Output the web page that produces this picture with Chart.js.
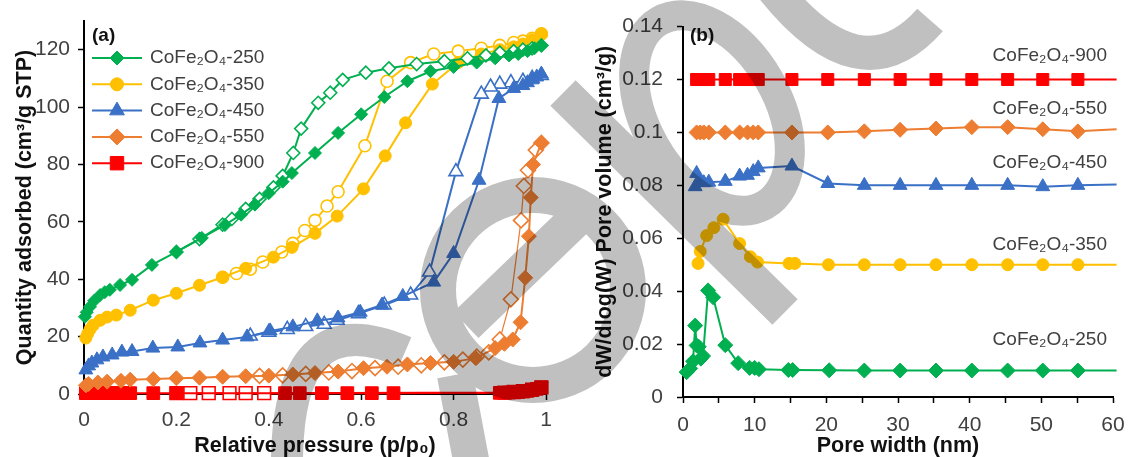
<!DOCTYPE html>
<html>
<head>
<meta charset="utf-8">
<script src="https://cdn.jsdelivr.net/npm/chart.js@4.4.1/dist/chart.umd.min.js"></script>
<style>
  html, body { margin: 0; padding: 0; background: #fff; }
  #wrap { position: relative; width: 1128px; height: 457px; overflow: hidden; }
  #chartA { position: absolute; left: 0; top: 0; }
  #chartB { position: absolute; left: 580px; top: 0; }
  #mark { position: absolute; left: 0; top: 0; pointer-events: none; mix-blend-mode: multiply; }
</style>
</head>
<body>
<div id="wrap">
  <canvas id="chartA" width="580" height="457"></canvas>
  <canvas id="chartB" width="556" height="457"></canvas>
  <canvas id="mark" width="1128" height="457"></canvas>
</div>
<script>
/*
 * (a) N2 isotherms: relative pressure p/p0 vs quantity adsorbed (cm3/g STP)
 * ads = adsorption branch (filled), des = desorption branch (open)
**/
const sampleNames = ['CoFe₂O₄-250', 'CoFe₂O₄-350', 'CoFe₂O₄-450', 'CoFe₂O₄-550', 'CoFe₂O₄-900'];

const ads250P = [0.002,0.006,0.013,0.022,0.035,0.045,0.056,0.078,0.104,0.147,0.2,0.255,0.305,0.34,0.37,0.4,0.43,0.45,0.5,0.55,0.6,0.65,0.7,0.75,0.8,0.85,0.89,0.92,0.94,0.96,0.975,0.99];
const ads250Q = [26.9,28.5,30.4,32.5,34.5,35.5,36.3,38,39.8,45,49.5,54.4,58.9,62.5,66,70,74,77,84,91,97.5,103.5,109,112.5,114,115.5,117,118,118.5,119.5,120.5,121.5];
const des250P = [0.99,0.97,0.95,0.93,0.9,0.87,0.83,0.78,0.72,0.66,0.61,0.56,0.533,0.507,0.47,0.453,0.43,0.41,0.38,0.35,0.32,0.3,0.25,0.2];
const des250Q = [121.5,120.5,120,119.5,119,118,117,116,115,113.5,112,109.5,105,101.5,92.5,84,76,72,68,64.5,61,59,54,49.5];

const ads350P = [0.004,0.008,0.013,0.02,0.035,0.05,0.07,0.1,0.15,0.2,0.25,0.3,0.35,0.41,0.45,0.5,0.548,0.605,0.652,0.696,0.754,0.81,0.86,0.9,0.93,0.95,0.97,0.99];
const ads350Q = [19.5,21,22.5,24,25.7,26.8,27.5,29.2,32.7,35.1,37.9,40.7,43.8,47.7,51.1,56,62,71.5,83,94.5,108,115.5,118.5,120,121,122,123.5,125.5];
const des350P = [0.99,0.97,0.95,0.93,0.9,0.86,0.81,0.757,0.707,0.656,0.608,0.55,0.526,0.5,0.478,0.452,0.428,0.387,0.36,0.33,0.3];
const des350Q = [125.5,124,123,122.5,121.5,120.5,119.5,118.5,115.5,109,86.5,70.5,65.5,60.5,57,52.5,49.5,46,43.5,42,40.7];

const ads450P = [0.004,0.01,0.017,0.028,0.041,0.061,0.082,0.104,0.149,0.203,0.251,0.3,0.353,0.403,0.452,0.505,0.55,0.598,0.645,0.69,0.757,0.8,0.855,0.898,0.93,0.95,0.96,0.97,0.98,0.99];
const ads450Q = [8.4,9.8,10.8,11.9,12.9,13.6,14.6,14.8,16,16.4,17.8,18.8,19.9,22,23.4,25.5,26.5,28.5,31,34,39,49,74.5,103,106.5,107.5,108.5,109.5,110.5,111.5];
const des450P = [0.99,0.97,0.95,0.924,0.9,0.88,0.86,0.805,0.748,0.707,0.65,0.594,0.548,0.52,0.48,0.44,0.4,0.36];
const des450Q = [111,110,109,108.5,108,107,104.5,77.5,42.5,34.5,31,28,25.7,24.3,23.5,22.5,21.5,20.2];

const ads550P = [0.004,0.01,0.03,0.05,0.08,0.1,0.15,0.2,0.25,0.3,0.35,0.4,0.452,0.5,0.55,0.605,0.656,0.7,0.75,0.8,0.848,0.89,0.91,0.928,0.945,0.955,0.963,0.967,0.972,0.99];
const ads550Q = [3,3.5,4,4.3,4.6,5,5.2,5.5,5.7,6,6.2,6.4,6.8,7.3,7.8,9,9.5,10.3,10.8,11.2,12.5,16,17.5,19,25,40.5,55,68.5,80,87.5];
const des550P = [0.99,0.978,0.961,0.952,0.946,0.924,0.9,0.876,0.85,0.82,0.78,0.73,0.68,0.63,0.58,0.53,0.48,0.43,0.38];
const des550Q = [87.5,85,78,72.5,60.5,33,19,14.5,13,12,11,10,9.5,9,8,7.5,7,6.5,6.3];

const ads900P = [0.004,0.01,0.02,0.03,0.04,0.05,0.06,0.07,0.08,0.09,0.1,0.15,0.2,0.435,0.467,0.515,0.57,0.623,0.67,0.9,0.92,0.94,0.95,0.96,0.97,0.98,0.99];
const ads900Q = [0.3,0.3,0.3,0.3,0.3,0.3,0.3,0.3,0.3,0.3,0.3,0.3,0.3,0.3,0.3,0.3,0.3,0.3,0.3,0.4,0.5,0.7,0.9,1.1,1.4,1.8,2.3];
const des900P = [0.99,0.97,0.95,0.93,0.91,0.39,0.35,0.315,0.27,0.23,0.2];
const des900Q = [2.3,1.5,1,0.7,0.5,0.3,0.3,0.3,0.3,0.3,0.3];

/*
 * (b) pore size distribution: pore width (nm) vs dW/dlog(W) (cm3/g), curves offset
**/
const width900 = [1.9,2.4,2.9,3.6,5.9,7.9,9.0,9.8,10.5,15.2,20.2,25.3,30.3,35.3,40.3,45.3,50.2,55.1,60.5];
const pore900 = [0.12,0.12,0.12,0.12,0.12,0.12,0.12,0.12,0.12,0.12,0.12,0.12,0.12,0.12,0.12,0.12,0.12,0.12,0.12];
const width550 = [1.9,2.4,2.9,3.6,5.9,7.9,9.0,9.8,10.5,15.2,20.2,25.3,30.3,35.3,40.3,45.3,50.2,55.1,60.5];
const pore550 = [0.1,0.1,0.1,0.1,0.1,0.1,0.1,0.1,0.1,0.1,0.1,0.1004,0.101,0.1015,0.102,0.102,0.1012,0.1004,0.1012];
const width450 = [1.7,1.9,2.4,2.9,3.6,5.9,7.9,9.0,9.8,10.5,15.2,20.2,25.3,30.3,35.3,40.3,45.3,50.2,55.1,60.5];
const pore450 = [0.0795,0.0845,0.0812,0.081,0.0812,0.0815,0.0835,0.0838,0.0852,0.0866,0.0873,0.0807,0.08,0.08,0.08,0.08,0.08,0.0795,0.08,0.0803];
const width350 = [2.1,2.4,3.3,4.3,5.6,7.9,9.4,10.4,14.8,15.6,20.3,25.3,30.3,35.3,40.3,45.3,50.2,55.1,60.5];
const pore350 = [0.0505,0.055,0.061,0.064,0.0672,0.058,0.053,0.051,0.0505,0.0505,0.05,0.05,0.05,0.05,0.05,0.05,0.05,0.05,0.05];
const width250 = [0.5,1.0,1.4,1.7,1.9,2.2,2.5,2.8,3.5,4.2,5.9,7.7,9.3,10.0,10.6,14.7,15.3,20.4,25.3,30.3,35.3,40.3,45.3,50.2,55.1,60.5];
const pore250 = [0.0094,0.0108,0.0135,0.027,0.0195,0.019,0.0145,0.0155,0.0403,0.0377,0.0196,0.0128,0.011,0.011,0.0105,0.0102,0.0102,0.0101,0.01,0.01,0.01,0.01,0.01,0.01,0.01,0.01];

const pressureTicks = [0, 0.2, 0.4, 0.6, 0.8, 1];

// styles
const FONT = "'Liberation Sans', Arial, sans-serif";
const colors = ['#00B050', '#FFC000', '#3A70C6', '#ED7D31', '#FF0000'];
const markers = [
  { style: 'rectRot', rA: 6.5, rB: 7.5 },
  { style: 'circle', rA: 6, rB: 6 },
  { style: 'triangle', rA: 8, rB: 8 },
  { style: 'rectRot', rA: 7.5, rB: 7.5 },
  { style: 'rect', rA: 9, rB: 8.5 }
];

const toPoints = (xs, ys) => xs.map((x, i) => ({ x: x, y: ys[i] }));
const fmt = (v) => String(Math.round(v * 100) / 100);

function isoDataset(xs, ys, idx, open) {
  const c = colors[idx];
  return {
    data: toPoints(xs, ys),
    showLine: true,
    borderColor: c,
    borderWidth: open && idx === 3 ? 1.2 : 2,
    pointStyle: markers[idx].style,
    pointRadius: markers[idx].rA,
    pointBackgroundColor: open ? '#fff' : c,
    pointBorderColor: c,
    pointBorderWidth: open ? 1.6 : 1,
    tension: 0,
    clip: false
  };
}

function poreDataset(xs, ys, idx) {
  const c = colors[idx];
  const last = xs.length - 1;
  return {
    data: toPoints(xs, ys),
    showLine: true,
    borderColor: c,
    borderWidth: 2,
    pointStyle: markers[idx].style,
    // the line runs on to the frame edge, last point carries no marker
    pointRadius: (ctx) => ctx.dataIndex === last ? 0 : markers[idx].rB,
    pointBackgroundColor: c,
    pointBorderColor: c,
    pointBorderWidth: 1,
    tension: 0,
    clip: false
  };
}

function axisTitle(text) {
  return { display: true, text: text, color: '#111', padding: { top: 14, bottom: 0 },
           font: { family: FONT, size: 21.5, weight: 'bold', lineHeight: 1 } };
}

function tickFont() {
  return { family: FONT, size: 21 };
}

const baseGrid = { drawOnChartArea: false, drawTicks: true, tickLength: 6, tickColor: '#000', tickWidth: 1.5 };
const baseBorder = { color: '#000', width: 2 };

/*
 * Plugins: legend inside (a), curve labels in (b), panel letters
**/
const isoLegend = {
  id: 'isoLegend',
  afterDraw(chart) {
    const ctx = chart.ctx;
    ctx.save();
    sampleNames.forEach((name, i) => {
      const y = 58 + i * 26.3;
      ctx.strokeStyle = colors[i];
      ctx.fillStyle = colors[i];
      ctx.lineWidth = 2;
      ctx.beginPath();
      ctx.moveTo(92, y);
      ctx.lineTo(142, y);
      ctx.stroke();
      ctx.lineWidth = 1;
      Chart.helpers.drawPoint(ctx, { pointStyle: markers[i].style, radius: markers[i].rA + 0.5, rotation: 0, borderWidth: 1 }, 117, y);
      ctx.fillStyle = '#404040';
      ctx.font = '19px ' + FONT;
      ctx.textBaseline = 'middle';
      ctx.textAlign = 'left';
      ctx.fillText(name, 150, y);
    });
    ctx.font = 'bold 19px ' + FONT;
    ctx.fillStyle = '#111';
    ctx.textBaseline = 'alphabetic';
    ctx.fillText('(a)', 92, 41);
    ctx.restore();
  }
};

const poreLabels = {
  id: 'poreLabels',
  afterDraw(chart) {
    const ctx = chart.ctx;
    const rows = [[4, 56], [3, 109], [2, 163], [1, 245], [0, 340]];
    ctx.save();
    ctx.font = '19px ' + FONT;
    ctx.fillStyle = '#404040';
    ctx.textAlign = 'right';
    ctx.textBaseline = 'middle';
    rows.forEach(([i, y]) => ctx.fillText(sampleNames[i], 527, y));
    ctx.font = 'bold 19px ' + FONT;
    ctx.fillStyle = '#111';
    ctx.textAlign = 'left';
    ctx.textBaseline = 'alphabetic';
    ctx.fillText('(b)', 110, 41);
    ctx.restore();
  }
};

/*
 * Main block
**/
const isoChart = new Chart(document.getElementById('chartA'), {
  type: 'scatter',
  data: {
    datasets: [
      isoDataset(ads250P, ads250Q, 0, false), isoDataset(des250P, des250Q, 0, true),
      isoDataset(ads350P, ads350Q, 1, false), isoDataset(des350P, des350Q, 1, true),
      isoDataset(ads450P, ads450Q, 2, false), isoDataset(des450P, des450Q, 2, true),
      isoDataset(ads550P, ads550Q, 3, false), isoDataset(des550P, des550Q, 3, true),
      isoDataset(ads900P, ads900Q, 4, false), isoDataset(des900P, des900Q, 4, true)
    ]
  },
  options: {
    responsive: false,
    animation: false,
    events: [],
    layout: { padding: { top: 21, right: 34, left: 0, bottom: 0 } },
    plugins: { legend: { display: false }, tooltip: { enabled: false } },
    scales: {
      x: {
        type: 'linear', min: 0, max: 1,
        afterBuildTicks: (s) => { s.ticks = pressureTicks.map((v) => ({ value: v })); },
        afterFit: (s) => { s.height = 63; },
        ticks: { padding: 8, color: '#404040', font: tickFont(), callback: fmt, autoSkip: false, maxRotation: 0 },
        grid: baseGrid, border: baseBorder,
        title: axisTitle('Relative pressure (p/p₀)')
      },
      y: {
        type: 'linear', min: 0, max: 130,
        afterBuildTicks: (s) => { s.ticks = s.ticks.filter((t) => t.value <= 120); },
        afterFit: (s) => { s.width = 84; },
        ticks: { stepSize: 20, padding: 8, color: '#404040', font: tickFont() },
        grid: baseGrid, border: baseBorder,
        title: axisTitle('Quantity adsorbed (cm³/g STP)')
      }
    }
  },
  plugins: [isoLegend]
});

const poreChart = new Chart(document.getElementById('chartB'), {
  type: 'scatter',
  data: {
    datasets: [
      poreDataset(width250, pore250, 0),
      poreDataset(width350, pore350, 1),
      poreDataset(width450, pore450, 2),
      poreDataset(width550, pore550, 3),
      poreDataset(width900, pore900, 4)
    ]
  },
  options: {
    responsive: false,
    animation: false,
    events: [],
    layout: { padding: { top: 25, right: 23, left: 0, bottom: 0 } },
    plugins: { legend: { display: false }, tooltip: { enabled: false } },
    scales: {
      x: {
        type: 'linear', min: 0, max: 60,
        afterFit: (s) => { s.height = 60; },
        ticks: { stepSize: 5, padding: 10, color: '#404040', font: tickFont(), autoSkip: false, maxRotation: 0,
                 callback: (v) => (v % 10 === 0 ? String(v) : '') },
        grid: baseGrid, border: baseBorder,
        title: axisTitle('Pore width (nm)')
      },
      y: {
        type: 'linear', min: 0, max: 0.14,
        afterFit: (s) => { s.width = 103; },
        ticks: { stepSize: 0.02, padding: 14, color: '#404040', font: tickFont(), callback: fmt },
        grid: baseGrid, border: baseBorder,
        title: axisTitle('dW/dlog(W) Pore volume (cm³/g)')
      }
    }
  },
  plugins: [poreLabels]
});

// grey watermark strokes lying over both panels
(function drawWatermark() {
  const ctx = document.getElementById('mark').getContext('2d');
  const D = Math.PI / 180;
  ctx.strokeStyle = '#c0c0c0';
  ctx.lineCap = 'butt';

  ctx.lineWidth = 32;
  ctx.beginPath(); ctx.moveTo(287, 470); ctx.quadraticCurveTo(285, 300, 405, 352); ctx.stroke();

  ctx.lineWidth = 36;
  ctx.beginPath(); ctx.arc(533, 290, 95, 0, 360 * D); ctx.stroke();
  ctx.beginPath(); ctx.moveTo(466, 325); ctx.lineTo(575, 220); ctx.stroke();
  ctx.beginPath(); ctx.moveTo(455, 375); ctx.lineTo(472, 465); ctx.stroke();
  ctx.beginPath(); ctx.moveTo(563, 93); ctx.lineTo(785, 312); ctx.stroke();

  ctx.lineWidth = 30;
  ctx.beginPath(); ctx.ellipse(712, 113, 106, 66, 1.05, 0, 360 * D); ctx.stroke();

  ctx.lineWidth = 34;
  ctx.beginPath(); ctx.moveTo(770, -15); ctx.quadraticCurveTo(860, 100, 930, 20); ctx.stroke();
})();
</script>
</body>
</html>
